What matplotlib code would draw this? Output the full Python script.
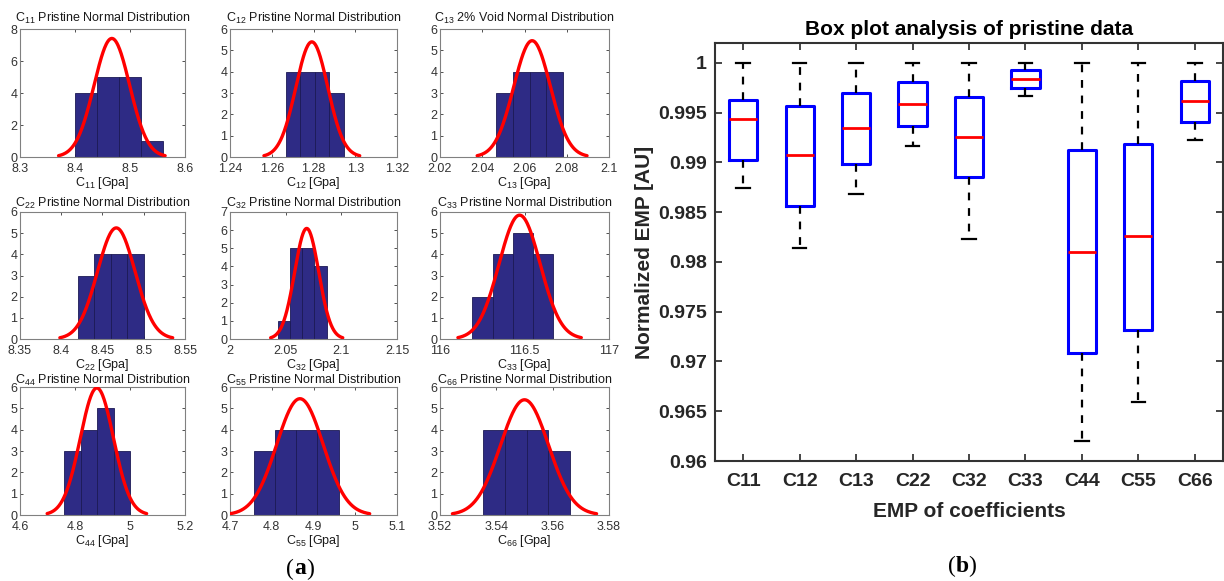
#!/usr/bin/env python3
"""
Recreate figure: (a) histograms with normal fits of the pristine elastic
coefficients, (b) box plot of the normalized EMP per coefficient.
"""

import numpy as np
import matplotlib
matplotlib.use("Agg")
import matplotlib.pyplot as plt
from matplotlib.ticker import FixedLocator, FixedFormatter

plt.rcParams["font.family"] = ["Liberation Sans", "DejaVu Sans"]
plt.rcParams["mathtext.default"] = "regular"

# --------------------------- data -------------------------

hist_names = ["11", "12", "13", "22", "32", "33", "44", "55", "66"]
hist_titles = ["Pristine", "Pristine", "2% Void", "Pristine", "Pristine",
               "Pristine", "Pristine", "Pristine", "Pristine"]

c11_edges = [8.40, 8.44, 8.48, 8.52, 8.56]
c11_counts = [4, 5, 5, 1]
c12_edges = [1.2668, 1.2737, 1.2806, 1.2875, 1.2944]
c12_counts = [4, 4, 4, 3]
c13_edges = [2.0466, 2.0545, 2.0624, 2.0703, 2.0782]
c13_counts = [3, 4, 4, 4]
c22_edges = [8.42, 8.44, 8.46, 8.48, 8.50]
c22_counts = [3, 4, 4, 4]
c32_edges = [2.0428, 2.0538, 2.0648, 2.0758, 2.0868]
c32_counts = [1, 5, 5, 4]
c33_edges = [116.192, 116.311, 116.430, 116.549, 116.668]
c33_counts = [2, 4, 5, 4]
c44_edges = [4.76, 4.82, 4.88, 4.94, 5.00]
c44_counts = [3, 4, 5, 3]
c55_edges = [4.757, 4.8078, 4.8586, 4.9094, 4.960]
c55_counts = [3, 4, 4, 4]
c66_edges = [3.5354, 3.5431, 3.5508, 3.5585, 3.5662]
c66_counts = [4, 4, 4, 3]

# fitted normal parameters (mean, std)
fit_mean = [8.467, 1.2792, 2.0636, 8.4667, 2.0689, 116.471, 4.8796, 4.8675, 3.5500]
fit_std = [0.0323, 0.00765, 0.00867, 0.0228, 0.0108, 0.1217, 0.0603, 0.0557, 0.00853]

hist_xticks = [
    [8.3, 8.4, 8.5, 8.6],
    [1.24, 1.26, 1.28, 1.30, 1.32],
    [2.02, 2.04, 2.06, 2.08, 2.10],
    [8.35, 8.40, 8.45, 8.50, 8.55],
    [2.00, 2.05, 2.10, 2.15],
    [116.0, 116.5, 117.0],
    [4.6, 4.8, 5.0, 5.2],
    [4.7, 4.8, 4.9, 5.0, 5.1],
    [3.52, 3.54, 3.56, 3.58],
]
hist_ymax = [8, 6, 6, 6, 7, 6, 6, 6, 6]

box_labels = ["C11", "C12", "C13", "C22", "C32", "C33", "C44", "C55", "C66"]
box_whislo = [0.98743, 0.98137, 0.98680, 0.99170, 0.98227, 0.99667, 0.96203, 0.96590, 0.99230]
box_q1 = [0.99027, 0.98563, 0.98987, 0.99363, 0.98853, 0.99750, 0.97087, 0.97320, 0.99407]
box_med = [0.99437, 0.99070, 0.99343, 0.99587, 0.99257, 0.99840, 0.98103, 0.98257, 0.99617]
box_q3 = [0.99627, 0.99567, 0.99697, 0.99810, 0.99657, 0.99930, 0.99120, 0.99190, 0.99823]
box_whishi = [1.0, 1.0, 1.0, 1.0, 1.0, 1.0, 1.0, 1.0, 1.0]
box_yticks = [0.96, 0.965, 0.97, 0.975, 0.98, 0.985, 0.99, 0.995, 1.0]

W, H = 1224, 581


def fig_rect(left, top, right, bottom):
    """Pixel box -> figure fraction rect."""
    return [left / W, 1 - bottom / H, (right - left) / W, (bottom - top) / H]


def draw_hist(ax, name, kind, edges, counts, mu, sd, xticks, ymax, title_pad):
    edges = np.asarray(edges)
    widths = np.diff(edges)
    ax.bar(edges[:-1], counts, width=widths, align="edge",
           color="#2e2b85", edgecolor="#1c1a55", linewidth=0.6, zorder=2)

    # histfit-style curve: scaled normal pdf over mean +- 3 sd
    n = float(np.sum(counts))
    w = float(np.mean(widths))
    xx = np.linspace(mu - 3 * sd, mu + 3 * sd, 200)
    yy = n * w * np.exp(-0.5 * ((xx - mu) / sd) ** 2) / (sd * np.sqrt(2 * np.pi))
    ax.plot(xx, yy, color="#ff0000", linewidth=2.4, zorder=3, solid_capstyle="round")

    ax.set_xlim(xticks[0], xticks[-1])
    ax.set_ylim(0, ymax)
    ax.xaxis.set_major_locator(FixedLocator(xticks))
    ax.xaxis.set_major_formatter(FixedFormatter([f"{t:g}" for t in xticks]))
    ax.yaxis.set_major_locator(FixedLocator(list(range(0, ymax + 1, 2 if ymax == 8 else 1))))
    ax.tick_params(direction="in", top=True, right=True, length=2, width=0.6,
                   labelsize=9, colors="#333333", pad=2)
    ax.tick_params(axis="x", pad=4)
    for sp in ax.spines.values():
        sp.set_color("#808080")
        sp.set_linewidth(0.8)
    ax.set_title(f"$C_{{{name}}}$ {kind} Normal Distribution", fontsize=9,
                 color="#1a1a1a", pad=title_pad)
    ax.set_xlabel(f"$C_{{{name}}}$ [Gpa]", fontsize=9, color="#1a1a1a", labelpad=0)


def panel_letter(fig, x, y, letter):
    serif = ["Liberation Serif", "DejaVu Serif"]
    fig.text((x - 6) / W, 1 - y / H, "(", family=serif, fontsize=17, ha="right", va="center")
    fig.text(x / W, 1 - y / H, letter, family=serif, fontsize=17, fontweight="bold",
             ha="center", va="center")
    fig.text((x + 6) / W, 1 - y / H, ")", family=serif, fontsize=17, ha="left", va="center")


def main() -> None:
    fig = plt.figure(figsize=(W / 100, H / 100), dpi=100)

    edges_all = [c11_edges, c12_edges, c13_edges, c22_edges, c32_edges,
                 c33_edges, c44_edges, c55_edges, c66_edges]
    counts_all = [c11_counts, c12_counts, c13_counts, c22_counts, c32_counts,
                  c33_counts, c44_counts, c55_counts, c66_counts]

    col_px = [(20, 185), (230, 397), (440, 609)]
    row_px = [(29, 157), (212, 339), (387, 515)]
    row_title_pad = [5, 4, 2]
    for i in range(9):
        r, c = divmod(i, 3)
        ax = fig.add_axes(fig_rect(col_px[c][0], row_px[r][0], col_px[c][1], row_px[r][1]))
        draw_hist(ax, hist_names[i], hist_titles[i], edges_all[i], counts_all[i],
                  fit_mean[i], fit_std[i], hist_xticks[i], hist_ymax[i], row_title_pad[r])

    # ----- box plot -----
    bax = fig.add_axes(fig_rect(715, 43, 1223, 461))
    stats = []
    for lab, lo, q1, med, q3, hi in zip(box_labels, box_whislo, box_q1, box_med, box_q3, box_whishi):
        stats.append({"label": lab, "whislo": lo, "q1": q1, "med": med, "q3": q3,
                      "whishi": hi, "fliers": []})
    pos = np.arange(1, len(stats) + 1)
    bax.bxp(stats, positions=pos, widths=0.5, capwidths=0.24, showfliers=False,
            boxprops=dict(color="#0000ff", linewidth=2.2),
            medianprops=dict(color="#ff0000", linewidth=2.0),
            whiskerprops=dict(color="black", linewidth=1.6, linestyle=(0, (3.5, 3.5))),
            capprops=dict(color="black", linewidth=1.6))
    bax.set_xlim(0.5, 9.5)
    bax.set_ylim(0.96, 1.002)
    bax.yaxis.set_major_locator(FixedLocator(box_yticks))
    bax.yaxis.set_major_formatter(FixedFormatter([f"{t:g}" for t in box_yticks]))
    bax.tick_params(direction="in", top=True, right=True, length=5, width=1.2,
                    labelsize=14, colors="#262626", pad=6)
    bax.tick_params(axis="x", pad=9)
    for lab in bax.get_xticklabels() + bax.get_yticklabels():
        lab.set_fontweight("bold")
    for sp in bax.spines.values():
        sp.set_color("#333333")
        sp.set_linewidth(1.5)
    bax.set_title("Box plot analysis of pristine data", fontsize=15, fontweight="bold",
                  color="black", pad=6)
    bax.set_xlabel("EMP of coefficients", fontsize=15, fontweight="bold",
                   color="#262626", labelpad=8)
    bax.set_ylabel("Normalized EMP [AU]", fontsize=15, fontweight="bold",
                   color="#262626", labelpad=3)

    panel_letter(fig, 300, 569, "a")
    panel_letter(fig, 962, 566, "b")

    fig.savefig("out.png", dpi=100, facecolor="white")


if __name__ == "__main__":
    main()
